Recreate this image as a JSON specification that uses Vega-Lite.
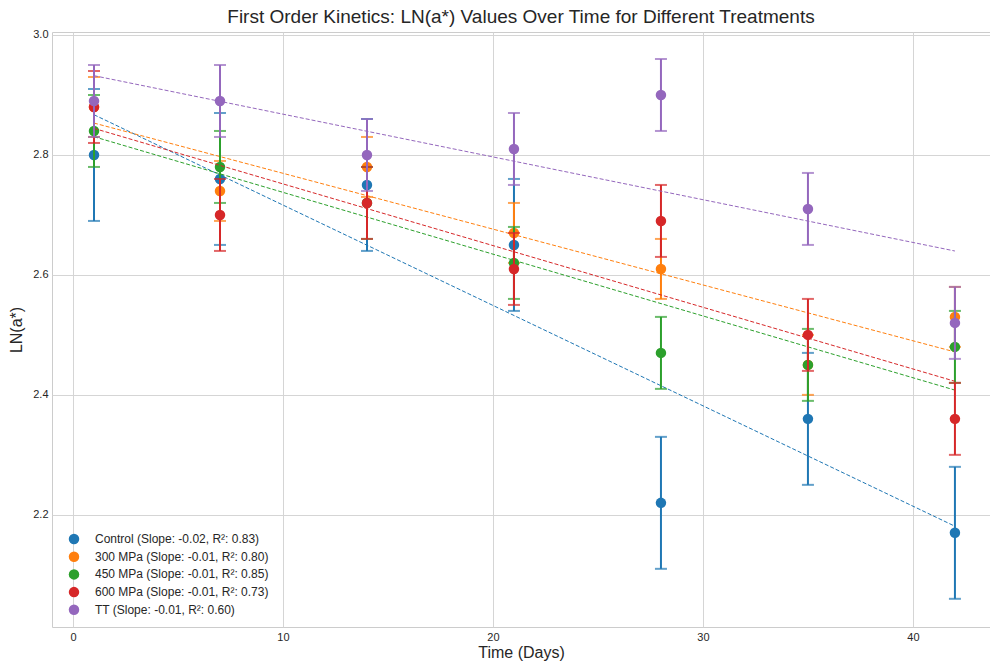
{
  "$schema": "https://vega.github.io/schema/vega-lite/v6.json",
  "width": 938,
  "height": 595,
  "autosize": {"type": "none"},
  "padding": {"left": 52, "top": 32, "right": 0, "bottom": 36},
  "background": "white",
  "config": {
    "font": "Liberation Sans",
    "view": {"stroke": "#cccccc", "strokeWidth": 1},
    "axis": {"grid": true, "gridColor": "#d5d5d5", "gridWidth": 1, "domain": false, "ticks": false, "labelFont": "Liberation Sans", "labelFontSize": 11, "labelColor": "#262626", "titleFont": "Liberation Sans", "titleFontSize": 16, "titleFontWeight": "normal", "titleColor": "#262626"}
  },
  "title": {"text": "First Order Kinetics: LN(a*) Values Over Time for Different Treatments", "fontSize": 19, "fontWeight": "normal", "font": "Liberation Sans", "color": "#262626", "anchor": "middle", "offset": 2},
  "data": {"values": [
    {"s": "Control", "day": 1, "v": 2.80, "err": 0.11},
    {"s": "Control", "day": 7, "v": 2.76, "err": 0.11},
    {"s": "Control", "day": 14, "v": 2.75, "err": 0.11},
    {"s": "Control", "day": 21, "v": 2.65, "err": 0.11},
    {"s": "Control", "day": 28, "v": 2.22, "err": 0.11},
    {"s": "Control", "day": 35, "v": 2.36, "err": 0.11},
    {"s": "Control", "day": 42, "v": 2.17, "err": 0.11},
    {"s": "300 MPa", "day": 1, "v": 2.88, "err": 0.05},
    {"s": "300 MPa", "day": 7, "v": 2.74, "err": 0.05},
    {"s": "300 MPa", "day": 14, "v": 2.78, "err": 0.05},
    {"s": "300 MPa", "day": 21, "v": 2.67, "err": 0.05},
    {"s": "300 MPa", "day": 28, "v": 2.61, "err": 0.05},
    {"s": "300 MPa", "day": 35, "v": 2.45, "err": 0.05},
    {"s": "300 MPa", "day": 42, "v": 2.53, "err": 0.05},
    {"s": "450 MPa", "day": 1, "v": 2.84, "err": 0.06},
    {"s": "450 MPa", "day": 7, "v": 2.78, "err": 0.06},
    {"s": "450 MPa", "day": 14, "v": 2.72, "err": 0.06},
    {"s": "450 MPa", "day": 21, "v": 2.62, "err": 0.06},
    {"s": "450 MPa", "day": 28, "v": 2.47, "err": 0.06},
    {"s": "450 MPa", "day": 35, "v": 2.45, "err": 0.06},
    {"s": "450 MPa", "day": 42, "v": 2.48, "err": 0.06},
    {"s": "600 MPa", "day": 1, "v": 2.88, "err": 0.06},
    {"s": "600 MPa", "day": 7, "v": 2.70, "err": 0.06},
    {"s": "600 MPa", "day": 14, "v": 2.72, "err": 0.06},
    {"s": "600 MPa", "day": 21, "v": 2.61, "err": 0.06},
    {"s": "600 MPa", "day": 28, "v": 2.69, "err": 0.06},
    {"s": "600 MPa", "day": 35, "v": 2.50, "err": 0.06},
    {"s": "600 MPa", "day": 42, "v": 2.36, "err": 0.06},
    {"s": "TT", "day": 1, "v": 2.89, "err": 0.06},
    {"s": "TT", "day": 7, "v": 2.89, "err": 0.06},
    {"s": "TT", "day": 14, "v": 2.80, "err": 0.06},
    {"s": "TT", "day": 21, "v": 2.81, "err": 0.06},
    {"s": "TT", "day": 28, "v": 2.90, "err": 0.06},
    {"s": "TT", "day": 35, "v": 2.71, "err": 0.06},
    {"s": "TT", "day": 42, "v": 2.52, "err": 0.06}
  ]},
  "encoding": {
    "x": {"field": "day", "type": "quantitative", "scale": {"domain": [-1.0, 43.67], "nice": false, "zero": false}, "axis": {"title": "Time (Days)", "values": [0, 10, 20, 30, 40], "labelPadding": 4, "titlePadding": 2}},
    "y": {"field": "v", "type": "quantitative", "scale": {"domain": [2.013, 3.005], "nice": false, "zero": false}, "axis": {"title": "LN(a*)", "values": [2.2, 2.4, 2.6, 2.8, 3.0], "format": ".1f", "labelPadding": 4, "titlePadding": 8}},
    "color": {"field": "s", "type": "nominal",
      "scale": {"domain": ["Control", "300 MPa", "450 MPa", "600 MPa", "TT"], "range": ["#1f77b4", "#ff7f0e", "#2ca02c", "#d62728", "#9467bd"]},
      "legend": {"title": null, "orient": "none", "legendX": 16, "legendY": 501, "padding": 0, "symbolType": "circle", "symbolSize": 110, "symbolStrokeWidth": 0, "symbolOpacity": 1, "labelFontSize": 12, "labelFont": "Liberation Sans", "labelColor": "#262626", "labelOffset": 15, "rowPadding": 5.7, "labelLimit": 400,
        "labelExpr": "datum.label == 'Control' ? 'Control (Slope: -0.02, R²: 0.83)' : datum.label == '300 MPa' ? '300 MPa (Slope: -0.01, R²: 0.80)' : datum.label == '450 MPa' ? '450 MPa (Slope: -0.01, R²: 0.85)' : datum.label == '600 MPa' ? '600 MPa (Slope: -0.01, R²: 0.73)' : 'TT (Slope: -0.01, R²: 0.60)'"}}
  },
  "layer": [
    {"transform": [{"filter": "datum.s == 'Control'"}], "layer": [
      {"mark": {"type": "errorbar", "ticks": {"size": 12, "thickness": 2}, "thickness": 2}, "encoding": {"yError": {"field": "err"}}},
      {"mark": {"type": "point", "filled": true, "opacity": 1, "size": 110, "shape": "circle"}},
      {"transform": [{"regression": "v", "on": "day", "groupby": ["s"]}], "mark": {"type": "line", "strokeWidth": 1, "strokeDash": [4, 2]}, "encoding": {}}
    ]},
    {"transform": [{"filter": "datum.s == '300 MPa'"}], "layer": [
      {"mark": {"type": "errorbar", "ticks": {"size": 12, "thickness": 2}, "thickness": 2}, "encoding": {"yError": {"field": "err"}}},
      {"mark": {"type": "point", "filled": true, "opacity": 1, "size": 110, "shape": "circle"}},
      {"transform": [{"regression": "v", "on": "day", "groupby": ["s"]}], "mark": {"type": "line", "strokeWidth": 1, "strokeDash": [4, 2]}, "encoding": {}}
    ]},
    {"transform": [{"filter": "datum.s == '450 MPa'"}], "layer": [
      {"mark": {"type": "errorbar", "ticks": {"size": 12, "thickness": 2}, "thickness": 2}, "encoding": {"yError": {"field": "err"}}},
      {"mark": {"type": "point", "filled": true, "opacity": 1, "size": 110, "shape": "circle"}},
      {"transform": [{"regression": "v", "on": "day", "groupby": ["s"]}], "mark": {"type": "line", "strokeWidth": 1, "strokeDash": [4, 2]}, "encoding": {}}
    ]},
    {"transform": [{"filter": "datum.s == '600 MPa'"}], "layer": [
      {"mark": {"type": "errorbar", "ticks": {"size": 12, "thickness": 2}, "thickness": 2}, "encoding": {"yError": {"field": "err"}}},
      {"mark": {"type": "point", "filled": true, "opacity": 1, "size": 110, "shape": "circle"}},
      {"transform": [{"regression": "v", "on": "day", "groupby": ["s"]}], "mark": {"type": "line", "strokeWidth": 1, "strokeDash": [4, 2]}, "encoding": {}}
    ]},
    {"transform": [{"filter": "datum.s == 'TT'"}], "layer": [
      {"mark": {"type": "errorbar", "ticks": {"size": 12, "thickness": 2}, "thickness": 2}, "encoding": {"yError": {"field": "err"}}},
      {"mark": {"type": "point", "filled": true, "opacity": 1, "size": 110, "shape": "circle"}},
      {"transform": [{"regression": "v", "on": "day", "groupby": ["s"]}], "mark": {"type": "line", "strokeWidth": 1, "strokeDash": [4, 2]}, "encoding": {}}
    ]}
  ]
}
